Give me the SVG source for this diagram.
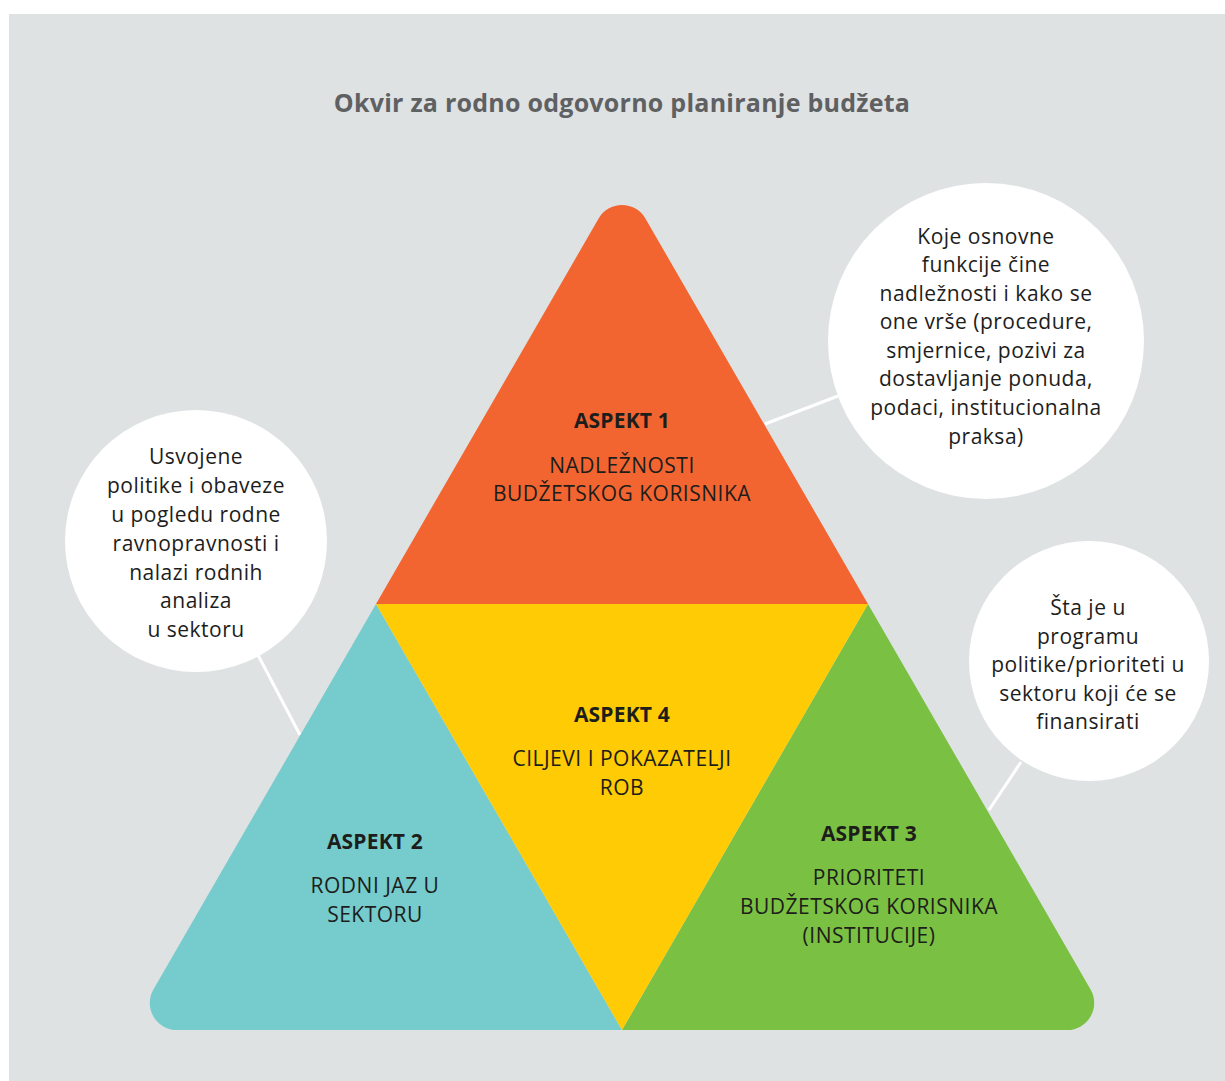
<svg xmlns="http://www.w3.org/2000/svg" width="1225" height="1081" viewBox="0 0 1225 1081">
<style>
.t{font-family:"Open Sans","Noto Sans","Liberation Sans",sans-serif;font-size:21px;letter-spacing:0.5px;fill:#1d1d1b;text-anchor:middle}
.b{font-weight:bold;letter-spacing:0.2px}
.title{font-family:"Open Sans","Noto Sans","Liberation Sans",sans-serif;font-size:25px;letter-spacing:0.25px;font-weight:bold;fill:#5e6062;text-anchor:middle}
.conn line{stroke:#ffffff;stroke-width:3}
.bubble{fill:#ffffff}
</style>
<rect x="0" y="0" width="1225" height="1081" fill="#ffffff"/>
<rect x="9" y="14" width="1216" height="1067" fill="#dfe2e3"/>
<text class="title" x="622" y="112">Okvir za rodno odgovorno planiranje budžeta</text>
<g id="connectors" class="conn">
<line x1="765" y1="424" x2="838" y2="396"/>
<line x1="258" y1="655" x2="300" y2="735"/>
<line x1="1021" y1="762" x2="989" y2="810"/>
</g>
<g id="aspekt1">
<path d="M376,604 L598.6,218.5 A27,27 0 0 1 645.4,218.5 L868,604 Z" fill="#f26531"/>
<text class="t b" x="622" y="428">ASPEKT 1</text>
<text class="t" x="622" y="473">NADLEŽNOSTI</text>
<text class="t" x="622" y="501">BUDŽETSKOG KORISNIKA</text>
</g>
<g id="aspekt2">
<path d="M376,604 L153.4,989.5 A27,27 0 0 0 176.8,1030 L622,1030 Z" fill="#76cbcc"/>
<text class="t b" x="375" y="849">ASPEKT 2</text>
<text class="t" x="375" y="893">RODNI JAZ U</text>
<text class="t" x="375" y="922">SEKTORU</text>
</g>
<g id="aspekt3">
<path d="M868,604 L1090.6,989.5 A27,27 0 0 1 1067.2,1030 L622,1030 Z" fill="#7ac143"/>
<text class="t b" x="869" y="841">ASPEKT 3</text>
<text class="t" x="869" y="885">PRIORITETI</text>
<text class="t" x="869" y="914">BUDŽETSKOG KORISNIKA</text>
<text class="t" x="869" y="943">(INSTITUCIJE)</text>
</g>
<g id="aspekt4">
<path d="M376,604 L868,604 L622,1030 Z" fill="#fecb05"/>
<text class="t b" x="622" y="722">ASPEKT 4</text>
<text class="t" x="622" y="766">CILJEVI I POKAZATELJI</text>
<text class="t" x="622" y="795">ROB</text>
</g>
<g id="bubble-top-right">
<circle class="bubble" cx="986" cy="341" r="158"/>
<text class="t" x="986" y="244">Koje osnovne</text>
<text class="t" x="986" y="272">funkcije čine</text>
<text class="t" x="986" y="301">nadležnosti i kako se</text>
<text class="t" x="986" y="329">one vrše (procedure,</text>
<text class="t" x="986" y="358">smjernice, pozivi za</text>
<text class="t" x="986" y="386">dostavljanje ponuda,</text>
<text class="t" x="986" y="415">podaci, institucionalna</text>
<text class="t" x="986" y="444">praksa)</text>
</g>
<g id="bubble-left">
<circle class="bubble" cx="196" cy="541" r="131"/>
<text class="t" x="196" y="464">Usvojene</text>
<text class="t" x="196" y="493">politike i obaveze</text>
<text class="t" x="196" y="522">u pogledu rodne</text>
<text class="t" x="196" y="551">ravnopravnosti i</text>
<text class="t" x="196" y="580">nalazi rodnih</text>
<text class="t" x="196" y="608">analiza</text>
<text class="t" x="196" y="637">u sektoru</text>
</g>
<g id="bubble-right">
<circle class="bubble" cx="1089" cy="661" r="120"/>
<text class="t" x="1088" y="615">Šta je u</text>
<text class="t" x="1088" y="644">programu</text>
<text class="t" x="1088" y="672">politike/prioriteti u</text>
<text class="t" x="1088" y="701">sektoru koji će se</text>
<text class="t" x="1088" y="729">finansirati</text>
</g>
</svg>
